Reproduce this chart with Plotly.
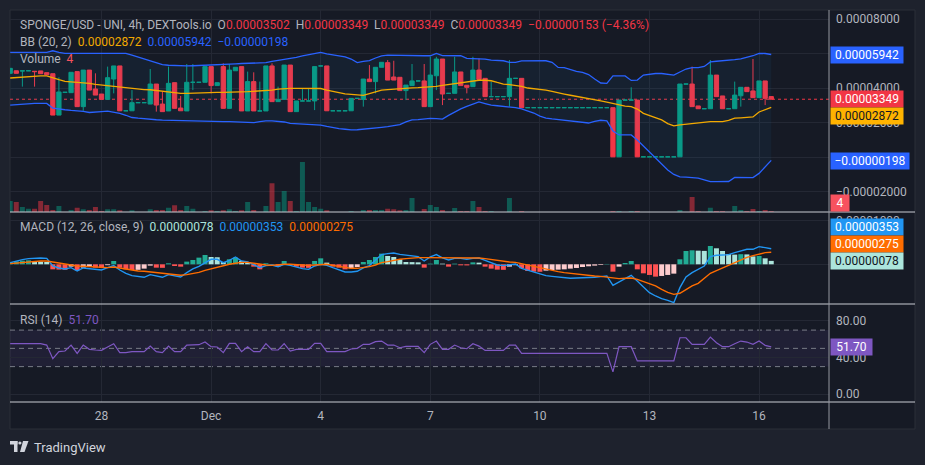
import plotly.graph_objects as go
from datetime import datetime, timedelta

# ------------------------------------------------------------------ data
START = datetime(2023, 11, 25, 12, 0)      # first 4h candle
BAR_HOURS = 4
PRICE_UNIT = 1e-5                          # OHLC / BB values are in 0.00001
MACD_UNIT = 1e-6                           # MACD values are in 0.000001

OPEN = [4.85, 5.00, 4.98, 5.00, 4.97, 4.99, 4.89, 4.83, 2.43, 3.75,
        3.73, 4.95, 2.92, 5.04, 3.94, 3.65, 3.34, 4.52, 5.28, 2.68,
        2.68, 3.15, 3.15, 3.07, 4.23, 3.07, 2.67, 4.31, 2.84, 2.67,
        4.33, 4.33, 4.33, 5.24, 4.14, 5.24, 2.82, 5.00, 5.24, 2.67,
        4.37, 2.67, 2.67, 5.28, 3.21, 3.34, 5.33, 2.63, 3.25, 3.25,
        3.25, 5.28, 5.28, 2.68, 2.68, 2.68, 2.68, 3.40, 3.34, 4.52,
        4.37, 5.20, 5.47, 4.64, 4.62, 3.85, 4.14, 4.41, 4.41, 2.92,
        4.71, 5.68, 3.69, 3.69, 4.93, 4.16, 4.08, 5.04, 4.56, 3.50,
        3.50, 3.50, 3.50, 4.56, 4.56, 2.86, 2.86, 2.86, 2.86, 2.86,
        2.86, 2.86, 2.86, 2.86, 2.86, 2.86, 2.86, 2.86, 2.86, 2.86,
        0.01, 3.30, 3.30, 3.30, 0.01, 0.01, 0.01, 0.01, 0.01, 0.01,
        0.01, 4.23, 4.23, 2.96, 2.80, 2.80, 4.75, 3.54, 2.80, 2.80,
        3.55, 4.04, 3.83, 3.44, 4.41, 3.502]
HIGH = [5.14, 5.00, 5.02, 5.00, 4.97, 4.99, 4.89, 4.83, 4.62, 3.75,
        4.91, 4.95, 5.04, 5.04, 4.85, 3.65, 5.24, 5.28, 5.28, 2.68,
        3.88, 3.15, 3.15, 5.10, 4.23, 3.79, 5.24, 4.31, 3.54, 5.39,
        5.39, 4.33, 5.24, 5.24, 4.31, 5.43, 5.39, 5.20, 5.24, 4.95,
        4.91, 4.37, 5.28, 5.43, 4.08, 5.33, 5.33, 3.25, 3.98, 3.98,
        5.24, 5.28, 5.28, 2.68, 2.68, 2.68, 3.40, 3.40, 4.52, 5.33,
        5.20, 5.49, 5.62, 5.58, 4.62, 4.17, 5.39, 4.41, 5.39, 5.81,
        5.81, 5.68, 3.69, 5.81, 4.93, 4.16, 5.81, 5.72, 4.56, 4.37,
        3.50, 3.50, 5.62, 4.56, 4.56, 2.86, 2.86, 2.86, 2.86, 2.86,
        2.86, 2.86, 2.86, 2.86, 2.86, 2.86, 2.86, 2.86, 2.86, 2.86,
        3.30, 3.30, 4.04, 3.30, 0.01, 0.01, 0.01, 0.01, 0.01, 0.01,
        4.23, 4.23, 5.24, 2.96, 2.80, 5.62, 4.75, 3.54, 2.80, 4.37,
        4.04, 4.04, 5.68, 4.41, 4.41, 3.502]
LOW = [4.85, 4.85, 4.08, 5.00, 4.08, 4.83, 4.77, 2.43, 2.43, 3.75,
       3.73, 2.92, 2.68, 3.88, 3.59, 3.34, 3.34, 3.69, 2.68, 2.68,
       2.68, 3.15, 3.15, 3.07, 2.63, 2.63, 2.67, 2.82, 2.68, 2.67,
       3.88, 4.33, 4.33, 3.69, 4.14, 2.82, 2.82, 5.00, 2.67, 2.67,
       2.67, 2.67, 2.67, 3.21, 3.21, 3.34, 2.63, 2.63, 3.25, 3.25,
       2.72, 5.28, 2.68, 2.68, 2.68, 2.68, 2.68, 3.40, 2.92, 4.37,
       3.69, 5.20, 4.46, 4.46, 3.85, 3.30, 4.14, 4.41, 2.92, 2.92,
       3.88, 3.01, 3.69, 3.69, 4.14, 3.69, 4.08, 4.50, 3.50, 3.50,
       3.50, 3.50, 2.92, 4.56, 2.86, 2.86, 2.86, 2.86, 2.86, 2.86,
       2.86, 2.86, 2.86, 2.86, 2.86, 2.86, 2.86, 2.86, 2.86, 0.01,
       0.01, 3.30, 3.30, 0.01, 0.01, 0.01, 0.01, 0.01, 0.01, 0.01,
       0.01, 4.23, 2.92, 2.80, 2.80, 2.80, 3.50, 2.80, 2.80, 2.80,
       2.92, 3.79, 3.44, 3.44, 3.01, 3.349]
CLOSE = [5.14, 4.85, 5.00, 5.00, 4.95, 4.83, 4.77, 2.43, 3.77, 3.75,
         4.91, 2.92, 5.04, 3.88, 3.59, 3.34, 4.60, 5.28, 2.68, 2.68,
         3.15, 3.15, 3.15, 4.23, 3.01, 2.63, 4.27, 2.82, 2.68, 4.33,
         4.33, 4.33, 5.24, 4.14, 4.31, 2.82, 5.04, 5.20, 2.67, 4.37,
         2.67, 2.67, 5.28, 3.21, 3.34, 5.33, 2.63, 3.25, 3.25, 3.25,
         5.24, 5.28, 2.68, 2.68, 2.68, 2.68, 3.40, 3.40, 4.52, 4.37,
         5.20, 5.49, 4.46, 4.46, 3.85, 4.17, 4.41, 4.41, 2.92, 4.75,
         5.68, 3.65, 3.69, 4.93, 4.14, 4.04, 5.04, 4.50, 3.50, 3.50,
         3.50, 3.50, 4.56, 4.56, 2.86, 2.86, 2.86, 2.86, 2.86, 2.86,
         2.86, 2.86, 2.86, 2.86, 2.86, 2.86, 2.86, 2.86, 2.86, 0.01,
         3.30, 3.30, 3.30, 0.01, 0.01, 0.01, 0.01, 0.01, 0.01, 0.01,
         4.23, 4.23, 2.92, 2.80, 2.80, 4.75, 3.50, 2.80, 2.80, 3.59,
         4.04, 3.79, 3.44, 4.41, 3.40, 3.349]
VOLUME = [44, 40, 20, 13, 13, 44, 28, 8, 24, 0,
          8, 17, 11, 8, 20, 4, 11, 11, 7, 0,
          7, 0, 0, 11, 8, 8, 17, 27, 8, 24,
          13, 0, 4, 7, 4, 7, 11, 4, 7, 40,
          8, 0, 24, 115, 40, 84, 44, 4, 200, 40,
          20, 13, 7, 0, 0, 0, 4, 0, 8, 8,
          8, 8, 13, 11, 7, 8, 56, 0, 12, 28,
          20, 8, 0, 16, 4, 4, 44, 20, 4, 4,
          0, 0, 56, 0, 4, 0, 0, 0, 0, 0,
          0, 0, 0, 0, 0, 0, 0, 0, 0, 4,
          4, 0, 4, 4, 0, 0, 0, 0, 0, 0,
          8, 0, 60, 4, 0, 17, 4, 4, 0, 24,
          8, 4, 12, 4, 8, 4]
BB_UPPER = [6.07, 6.07, 6.07, 6.07, 6.07, 6.07, 6.07, 6.16, 6.06, 6.01,
            6.01, 6.01, 6.01, 6.01, 6.01, 6.01, 6.01, 6.01, 6.01, 6.01,
            5.91, 5.80, 5.68, 5.57, 5.45, 5.36, 5.32, 5.30, 5.29, 5.28,
            5.29, 5.30, 5.32, 5.33, 5.35, 5.37, 5.39, 5.40, 5.42, 5.43,
            5.44, 5.45, 5.47, 5.54, 5.59, 5.64, 5.71, 5.78, 5.86, 5.94,
            6.01, 6.06, 5.98, 5.91, 5.86, 5.80, 5.68, 5.47, 5.54, 5.59,
            5.74, 5.86, 5.91, 5.90, 5.88, 5.86, 5.86, 5.87, 5.87, 5.87,
            6.01, 5.88, 5.87, 5.87, 5.87, 5.72, 5.72, 5.72, 5.68, 5.62,
            5.58, 5.58, 5.49, 5.49, 5.57, 5.58, 5.58, 5.58, 5.58, 5.49,
            5.19, 5.18, 5.07, 4.96, 4.90, 4.78, 4.52, 4.29, 4.27, 4.70,
            4.70, 4.70, 4.44, 4.46, 4.75, 4.81, 4.84, 4.84, 4.81, 4.75,
            4.93, 5.10, 5.18, 5.18, 5.25, 5.51, 5.55, 5.57, 5.58, 5.64,
            5.69, 5.77, 5.87, 6.01, 6.00, 5.942]
BB_BASIS = [4.58, 4.61, 4.64, 4.67, 4.70, 4.70, 4.70, 4.58, 4.48, 4.39,
            4.36, 4.35, 4.33, 4.27, 4.21, 4.17, 4.13, 4.10, 4.08, 4.03,
            3.98, 3.94, 3.91, 3.90, 3.86, 3.81, 3.76, 3.71, 3.69, 3.69,
            3.71, 3.73, 3.75, 3.75, 3.75, 3.75, 3.75, 3.76, 3.77, 3.79,
            3.81, 3.83, 3.84, 3.88, 3.94, 3.98, 3.98, 3.98, 3.98, 3.98,
            3.98, 3.97, 3.88, 3.80, 3.71, 3.66, 3.63, 3.59, 3.57, 3.68,
            3.80, 3.88, 3.91, 3.94, 3.98, 4.00, 4.01, 4.02, 4.03, 4.04,
            4.09, 4.15, 4.20, 4.27, 4.31, 4.35, 4.39, 4.45, 4.45, 4.42,
            4.32, 4.23, 4.20, 4.16, 4.09, 4.00, 3.97, 3.94, 3.88, 3.80,
            3.71, 3.65, 3.58, 3.52, 3.47, 3.41, 3.33, 3.26, 3.18, 3.10,
            2.99, 2.95, 2.92, 2.78, 2.53, 2.41, 2.28, 2.15, 1.94, 1.81,
            1.86, 1.90, 1.95, 2.00, 2.04, 2.05, 2.05, 2.05, 2.12, 2.25,
            2.27, 2.29, 2.32, 2.61, 2.75, 2.872]
BB_LOWER = [3.01, 3.04, 3.07, 3.10, 3.11, 3.11, 3.11, 2.84, 2.77, 2.74,
            2.70, 2.68, 2.65, 2.58, 2.59, 2.63, 2.66, 2.61, 2.53, 2.42,
            2.29, 2.25, 2.21, 2.19, 2.16, 2.14, 2.13, 2.11, 2.09, 2.08,
            2.06, 2.05, 2.05, 2.05, 2.05, 2.05, 2.05, 2.04, 2.02, 2.00,
            1.99, 2.05, 2.10, 2.09, 2.06, 2.03, 1.95, 1.93, 1.94, 1.91,
            1.88, 1.85, 1.77, 1.70, 1.65, 1.61, 1.57, 1.58, 1.61, 1.62,
            1.67, 1.72, 1.76, 1.83, 1.88, 2.04, 2.15, 2.17, 2.21, 2.24,
            2.23, 2.20, 2.41, 2.61, 2.79, 2.93, 3.07, 3.19, 3.10, 3.01,
            2.97, 2.94, 2.92, 2.86, 2.79, 2.68, 2.55, 2.37, 2.26, 2.21,
            2.17, 2.11, 2.05, 2.01, 1.98, 1.97, 2.06, 2.13, 2.09, 1.51,
            1.28, 1.28, 1.28, 0.99, 0.64, 0.29, -0.09, -0.39, -0.75, -1.01,
            -1.15, -1.17, -1.19, -1.23, -1.32, -1.43, -1.43, -1.43, -1.42, -1.18,
            -1.19, -1.19, -1.19, -0.95, -0.58, -0.198]
MACD_LINE = [0.38, 0.76, 1.06, 1.29, 1.44, 1.44, 1.36, -0.38, -0.83, -1.06,
             -0.76, -1.52, -0.83, -0.98, -1.21, -1.29, -0.76, -0.30, -1.29, -2.05,
             -2.58, -2.80, -2.95, -2.35, -2.65, -2.95, -2.35, -2.65, -2.88, -1.89,
             -1.06, -0.45, 0.38, 1.14, 1.14, 0.38, 0.91, 1.67, 0.76, 0.53,
             -0.08, -0.76, -0.30, -0.15, -0.53, 0.00, -0.23, -0.68, -0.98, -1.14,
             -0.38, 0.00, -0.23, -0.76, -1.21, -1.74, -1.74, -1.59, -0.83, -0.30,
             0.98, 2.20, 2.42, 2.58, 2.27, 2.05, 1.89, 1.74, 0.76, 1.67,
             2.20, 1.44, 0.98, 1.36, 1.36, 1.14, 1.36, 1.44, 0.91, 0.38,
             -0.15, -0.30, -0.15, 0.08, -0.91, -1.36, -1.82, -2.27, -2.58, -2.73,
             -2.88, -3.03, -3.18, -3.11, -3.11, -3.03, -2.95, -2.80, -2.65, -4.77,
             -3.94, -3.26, -2.50, -3.79, -5.30, -6.44, -7.20, -7.80, -8.18, -8.71,
             -5.30, -2.88, -1.89, -1.14, -0.38, 1.74, 2.05, 2.12, 2.20, 2.65,
             3.03, 3.41, 3.41, 4.02, 3.79, 3.53]
MACD_SIGNAL = [0.15, 0.30, 0.45, 0.61, 0.68, 0.76, 0.76, 0.53, 0.23, 0.00,
               -0.23, -0.38, -0.45, -0.53, -0.61, -0.68, -0.76, -0.61, -0.83, -1.14,
               -1.29, -1.52, -1.59, -1.74, -1.89, -2.05, -2.20, -2.35, -2.50, -2.35,
               -2.12, -1.82, -1.36, -0.98, -0.61, -0.30, 0.00, 0.23, 0.45, 0.45,
               0.23, -0.08, -0.15, -0.23, -0.08, 0.00, 0.00, -0.08, -0.15, -0.23,
               -0.15, -0.08, 0.00, -0.23, -0.45, -0.68, -0.91, -0.91, -0.76, -0.53,
               -0.15, 0.38, 0.61, 0.91, 1.14, 1.29, 1.44, 1.52, 1.52, 1.52,
               1.52, 1.52, 1.52, 1.52, 1.52, 1.52, 1.52, 1.44, 1.29, 1.06,
               0.83, 0.61, 0.53, 0.45, 0.15, -0.15, -0.53, -0.91, -1.21, -1.52,
               -1.67, -1.89, -2.05, -2.27, -2.50, -2.58, -2.65, -2.73, -2.88, -3.11,
               -3.26, -3.18, -3.11, -3.41, -3.86, -4.32, -4.92, -5.68, -6.36, -6.82,
               -6.59, -5.76, -4.92, -4.32, -3.26, -2.05, -1.44, -0.83, -0.15, 0.38,
               0.98, 1.59, 1.97, 2.35, 2.65, 2.75]
MACD_HIST = [0.53, 0.68, 0.83, 0.91, 0.68, 0.61, 0.53, -1.14, -1.20, -1.25,
             -0.53, -1.36, -0.76, -0.61, -0.76, -0.83, -0.20, 0.76, -0.76, -1.14,
             -1.29, -1.25, -0.98, -0.30, -0.76, -0.80, 0.23, -0.38, -0.53, 0.61,
             0.98, 1.52, 2.12, 1.67, 1.60, 0.53, 1.14, 1.52, 0.76, 0.38,
             -0.53, -1.14, 0.23, 0.05, -0.53, 0.76, 0.05, -0.53, -0.76, -0.80,
             0.76, 1.36, 0.38, -0.53, -0.76, -1.14, -0.91, -0.61, 0.53, 0.98,
             1.67, 2.42, 1.89, 1.67, 1.14, 0.53, 0.50, 0.45, -0.76, 0.15,
             0.98, 0.15, -0.53, 0.15, -0.23, -0.25, 0.45, 0.38, -0.53, -0.98,
             -1.21, -1.25, -0.53, -0.20, -0.91, -1.52, -1.67, -1.70, -1.44, -1.29,
             -1.21, -1.14, -0.98, -0.83, -0.61, -0.45, -0.30, -0.15, 0.08, -1.67,
             -0.53, 0.30, 0.76, -1.14, -2.05, -2.42, -2.80, -2.65, -2.42, -2.12,
             1.14, 3.03, 3.18, 3.10, 3.05, 4.17, 3.64, 3.03, 2.35, 2.20,
             2.30, 2.25, 1.80, 1.90, 1.36, 0.78]
RSI = [55.1, 55.1, 55.1, 55.1, 55.1, 55.1, 53.6, 38.7, 46.4, 47.1,
       53.6, 44.5, 53.6, 48.9, 48.2, 47.8, 51.5, 55.1, 45.3, 45.3,
       46.4, 46.4, 46.4, 52.5, 46.4, 45.3, 52.5, 46.4, 46.4, 53.6,
       53.6, 54.0, 56.9, 51.8, 51.5, 45.3, 55.5, 55.5, 46.4, 51.8,
       46.4, 46.4, 55.1, 48.2, 48.2, 55.1, 47.1, 48.9, 48.9, 48.9,
       55.5, 55.5, 46.4, 46.4, 46.4, 46.4, 49.3, 50.0, 54.4, 54.4,
       57.3, 58.0, 53.6, 53.6, 50.7, 52.2, 52.2, 52.2, 45.3, 54.4,
       58.0, 48.9, 48.9, 53.6, 50.7, 49.6, 55.1, 52.5, 47.8, 47.8,
       47.8, 47.8, 53.6, 53.6, 44.5, 44.5, 44.5, 44.5, 44.5, 44.5,
       44.5, 44.5, 44.5, 44.5, 44.5, 44.5, 44.5, 44.5, 44.5, 24.2,
       51.8, 51.8, 51.8, 36.2, 36.2, 36.2, 36.2, 36.2, 36.2, 36.2,
       61.6, 61.6, 54.4, 54.4, 54.4, 62.4, 56.2, 51.8, 51.8, 55.1,
       58.0, 56.9, 54.4, 58.0, 53.3, 51.70]
RSI_LEVELS = [70, 50, 30]

TICK_DATES = ["2023-11-28", "2023-12-01", "2023-12-04", "2023-12-07",
              "2023-12-10", "2023-12-13", "2023-12-16"]
TICK_TEXT = ["28", "Dec", "4", "7", "10", "13", "16"]
# grid levels; labels hidden behind the price tags in the reference are left blank
PRICE_TICKS = [-2e-5, 0.0, 2e-5, 4e-5, 6e-5, 8e-5]
PRICE_TICK_TEXT = ["\u22120.00002000", "", "0.00002000", "0.00004000", "", "0.00008000"]
MACD_TICKS = [0.0, 1e-5]
MACD_TICK_TEXT = ["", "0.00001000"]
RSI_TICKS = [0, 40, 80]
RSI_TICK_TEXT = ["0.00", "40.00", "80.00"]

TITLE = "SPONGE/USD - UNI, 4h, DEXTools.io"
OHLC_TEXT = ["0.00003502", "0.00003349", "0.00003349", "0.00003349"]
CHANGE_TEXT = "\u22120.00000153 (\u22124.36%)"
BB_TEXT = ["0.00002872", "0.00005942", "\u22120.00000198"]
VOL_TEXT = "4"
MACD_TEXT = ["0.00000078", "0.00000353", "0.00000275"]
RSI_TEXT = "51.70"

# ------------------------------------------------------------------ build
n = len(CLOSE)
for arr in (OPEN, HIGH, LOW, VOLUME, BB_UPPER, BB_BASIS, BB_LOWER,
            MACD_LINE, MACD_SIGNAL, MACD_HIST, RSI):
    assert len(arr) == n, len(arr)

W, H = 925, 465
def fx(px):
    return px / W
def fy(py):
    return 1 - py / H

times = [START + timedelta(hours=BAR_HOURS * i) for i in range(n)]
P = lambda arr: [v * PRICE_UNIT for v in arr]
M = lambda arr: [v * MACD_UNIT for v in arr]
o, h, l, c = P(OPEN), P(HIGH), P(LOW), P(CLOSE)
is_up = [cc >= oo for oo, cc in zip(OPEN, CLOSE)]

GREEN, RED = "#089981", "#f23645"
BG, OUTER, GRID = "#161a25", "#1e222d", "#242834"
TXT = "#b2b5be"
FONT = "Roboto, Noto Sans, sans-serif"

PX_PER_DAY = 36.53
X_START_PX = 10.2
PL, PR = 10, 829
x_left = START - timedelta(days=(X_START_PX - PL) / PX_PER_DAY)
x_right = START + timedelta(days=(PR - X_START_PX) / PX_PER_DAY)

fig = go.Figure()

# volume (base axis y)
bar_w = BAR_HOURS * 3600 * 1000 * 0.82
fig.add_trace(go.Bar(
    x=times, y=VOLUME, width=bar_w, xaxis="x", yaxis="y",
    marker=dict(color=["rgba(8,153,129,0.5)" if u else "rgba(242,54,69,0.5)" for u in is_up],
                line=dict(width=0)),
    hoverinfo="skip"))

# Bollinger bands (price axis y2)
fig.add_trace(go.Scatter(x=times, y=P(BB_UPPER), mode="lines", xaxis="x", yaxis="y2",
                         line=dict(color="#2962ff", width=1.3), hoverinfo="skip"))
fig.add_trace(go.Scatter(x=times, y=P(BB_LOWER), mode="lines", xaxis="x", yaxis="y2",
                         line=dict(color="#2962ff", width=1.3), fill="tonexty",
                         fillcolor="rgba(33,150,243,0.06)", hoverinfo="skip"))
fig.add_trace(go.Scatter(x=times, y=P(BB_BASIS), mode="lines", xaxis="x", yaxis="y2",
                         line=dict(color="#f2a900", width=1.3), hoverinfo="skip"))

# candles
for want, col in ((True, GREEN), (False, RED)):
    idx = [i for i in range(n) if is_up[i] == want]
    fig.add_trace(go.Candlestick(
        x=[times[i] for i in idx], open=[o[i] for i in idx], high=[h[i] for i in idx],
        low=[l[i] for i in idx], close=[c[i] for i in idx], xaxis="x", yaxis="y2",
        increasing=dict(line=dict(color=col, width=1), fillcolor=col),
        decreasing=dict(line=dict(color=col, width=1), fillcolor=col),
        whiskerwidth=0, hoverinfo="skip"))

# MACD
hist_cols = []
prev = None
for hv in MACD_HIST:
    if hv >= 0:
        hist_cols.append("#22ab94" if (prev is None or hv > prev) else "#ace5dc")
    else:
        hist_cols.append("#ff5252" if (prev is None or hv < prev) else "#fccbcd")
    prev = hv
fig.add_trace(go.Bar(x=times, y=M(MACD_HIST), width=bar_w, xaxis="x2", yaxis="y3",
                     marker=dict(color=hist_cols, line=dict(width=0)), hoverinfo="skip"))
fig.add_trace(go.Scatter(x=times, y=M(MACD_LINE), mode="lines", xaxis="x2", yaxis="y3",
                         line=dict(color="#2196f3", width=1.4), hoverinfo="skip"))
fig.add_trace(go.Scatter(x=times, y=M(MACD_SIGNAL), mode="lines", xaxis="x2", yaxis="y3",
                         line=dict(color="#ff6d00", width=1.4), hoverinfo="skip"))

# RSI
fig.add_trace(go.Scatter(x=times, y=RSI, mode="lines", xaxis="x3", yaxis="y4",
                         line=dict(color="#7e57c2", width=1.2), hoverinfo="skip"))

# ------------------------------------------------------------------ layout
axis_font = dict(family=FONT, size=12, color=TXT)
xcommon = dict(type="date", range=[x_left, x_right], domain=[fx(PL), fx(PR)],
               tickvals=TICK_DATES, ticktext=TICK_TEXT, showgrid=True, gridcolor=GRID,
               gridwidth=1, zeroline=False, showline=False, ticks="", fixedrange=True,
               rangeslider=dict(visible=False))
ycommon = dict(side="right", showgrid=True, gridcolor=GRID, gridwidth=1, zeroline=False,
               showline=False, ticks="", tickfont=axis_font, fixedrange=True,
               ticklabelstandoff=6)

PRICE_DOM = [fy(212), fy(10)]
MACD_DOM = [fy(304), fy(212)]
RSI_DOM = [fy(402), fy(304)]

fig.update_layout(
    width=W, height=H, margin=dict(l=0, r=0, t=0, b=0),
    paper_bgcolor=OUTER, plot_bgcolor="rgba(0,0,0,0)",
    showlegend=False, hovermode=False, boxgap=0.3, boxgroupgap=0, barmode="overlay",
    xaxis=dict(**xcommon, anchor="y", showticklabels=False),
    xaxis2=dict(**xcommon, anchor="y3", showticklabels=False),
    xaxis3=dict(**xcommon, anchor="y4", showticklabels=True, tickfont=axis_font,
                ticklabelstandoff=5),
    yaxis=dict(domain=PRICE_DOM, range=[0, 808], visible=False, anchor="x", fixedrange=True),
    yaxis2=dict(**ycommon, overlaying="y", anchor="x", range=[-3.188e-5, 8.522e-5],
                tickvals=PRICE_TICKS, ticktext=PRICE_TICK_TEXT),
    yaxis3=dict(**ycommon, domain=MACD_DOM, anchor="x2", range=[-9.02e-6, 11.89e-6],
                tickvals=MACD_TICKS, ticktext=MACD_TICK_TEXT),
    yaxis4=dict(**ycommon, domain=RSI_DOM, anchor="x3", range=[-8.77, 98.6],
                tickvals=RSI_TICKS, ticktext=RSI_TICK_TEXT),
)

shapes = []
# chart panel background
shapes.append(dict(type="rect", xref="paper", yref="paper", x0=fx(10), x1=fx(915),
                   y0=fy(429), y1=fy(10), fillcolor=BG, line=dict(color="#2a2e39", width=1),
                   layer="below"))
# RSI band and levels
shapes.append(dict(type="rect", xref="paper", yref="y4", x0=fx(PL), x1=fx(PR),
                   y0=min(RSI_LEVELS), y1=max(RSI_LEVELS), fillcolor="rgba(126,87,194,0.1)",
                   line=dict(width=0), layer="below"))
for lv in RSI_LEVELS:
    shapes.append(dict(type="line", xref="paper", yref="y4", x0=fx(PL), x1=fx(PR), y0=lv, y1=lv,
                       line=dict(color="#787b86", width=1, dash="5px,4px"), layer="below"))
# last price dotted line
shapes.append(dict(type="line", xref="paper", yref="y2", x0=fx(PL), x1=fx(PR),
                   y0=CLOSE[-1] * PRICE_UNIT, y1=CLOSE[-1] * PRICE_UNIT,
                   line=dict(color=RED, width=1, dash="dot"), layer="below"))
# pane separators and price-scale border
for yy in (212, 304, 402):
    shapes.append(dict(type="line", xref="paper", yref="paper", x0=fx(10), x1=fx(915),
                       y0=fy(yy), y1=fy(yy), line=dict(color="#c9ccd4", width=1), layer="above"))
shapes.append(dict(type="line", xref="paper", yref="paper", x0=fx(829), x1=fx(829),
                   y0=fy(429), y1=fy(10), line=dict(color="#9598a1", width=1), layer="above"))
# TradingView logo mark
LOGO = "#d1d4dc"
shapes.append(dict(type="rect", xref="paper", yref="paper", x0=fx(10), x1=fx(17.5),
                   y0=fy(444.5), y1=fy(441), fillcolor=LOGO, line=dict(width=0)))
shapes.append(dict(type="rect", xref="paper", yref="paper", x0=fx(14), x1=fx(17.5),
                   y0=fy(452), y1=fy(441), fillcolor=LOGO, line=dict(width=0)))
shapes.append(dict(type="circle", xref="paper", yref="paper", x0=fx(18.3), x1=fx(21.5),
                   y0=fy(444.6), y1=fy(441.4), fillcolor=LOGO, line=dict(width=0)))
shapes.append(dict(type="path", xref="paper", yref="paper",
                   path=f"M {fx(23)} {fy(441)} L {fx(28.5)} {fy(441)} L {fx(24.5)} {fy(452)} "
                        f"L {fx(20)} {fy(452)} Z",
                   fillcolor=LOGO, line=dict(width=0)))
fig.update_layout(shapes=shapes)

SP = "\u00a0"
def span(t, col):
    return f'<span style="color:{col}">{t}</span>'

ann = []
def legend(text, px, py):
    ann.append(dict(xref="paper", yref="paper", x=fx(px), y=fy(py), xanchor="left",
                    yanchor="middle", showarrow=False, text=text,
                    font=dict(family=FONT, size=12, color=TXT)))

legend(TITLE + SP * 2 + "O" + span(OHLC_TEXT[0], RED) + SP * 2 + "H" + span(OHLC_TEXT[1], RED)
       + SP * 2 + "L" + span(OHLC_TEXT[2], RED) + SP * 2 + "C" + span(OHLC_TEXT[3], RED)
       + SP * 2 + span(CHANGE_TEXT, RED), 18, 25)
legend("BB (20, 2)" + SP * 2 + span(BB_TEXT[0], "#f2a900") + SP * 2 + span(BB_TEXT[1], "#2962ff")
       + SP * 2 + span(BB_TEXT[2], "#2962ff"), 18, 42)
legend("Volume" + SP * 2 + span(VOL_TEXT, "#f7525f"), 18, 59)
legend("MACD (12, 26, close, 9)" + SP * 2 + span(MACD_TEXT[0], "#ace5dc") + SP * 2
       + span(MACD_TEXT[1], "#2196f3") + SP * 2 + span(MACD_TEXT[2], "#ff6d00"), 18, 227)
legend("RSI (14)" + SP * 2 + span(RSI_TEXT, "#7e57c2"), 18, 320)

def tag(text, py, bg, fg="#ffffff", width=70):
    ann.append(dict(xref="paper", yref="paper", x=fx(830), y=fy(py), xanchor="left",
                    yanchor="middle", showarrow=False, text=text, bgcolor=bg, borderpad=1,
                    width=width, align="center",
                    font=dict(family=FONT, size=12, color=fg)))

tag(BB_TEXT[1], 55, "#2962ff")
tag(OHLC_TEXT[3], 99, RED)
tag(BB_TEXT[0], 116, "#ffb300", fg="#131722")
tag(BB_TEXT[2], 161, "#2962ff", width=76)
tag(VOL_TEXT, 203, "#f7525f", width=16)
tag(MACD_TEXT[1], 227, "#2196f3")
tag(MACD_TEXT[2], 244.5, "#ff6d00")
tag(MACD_TEXT[0], 261, "#ace5dc", fg="#131722")
tag(RSI_TEXT, 347, "#7e57c2", width=39)

ann.append(dict(xref="paper", yref="paper", x=fx(32), y=fy(447), xanchor="left",
                yanchor="middle", showarrow=False, text="TradingView",
                font=dict(family=FONT, size=13, color=LOGO)))
fig.update_layout(annotations=ann)

fig.write_html("out.html", config={"displayModeBar": False, "staticPlot": True})
